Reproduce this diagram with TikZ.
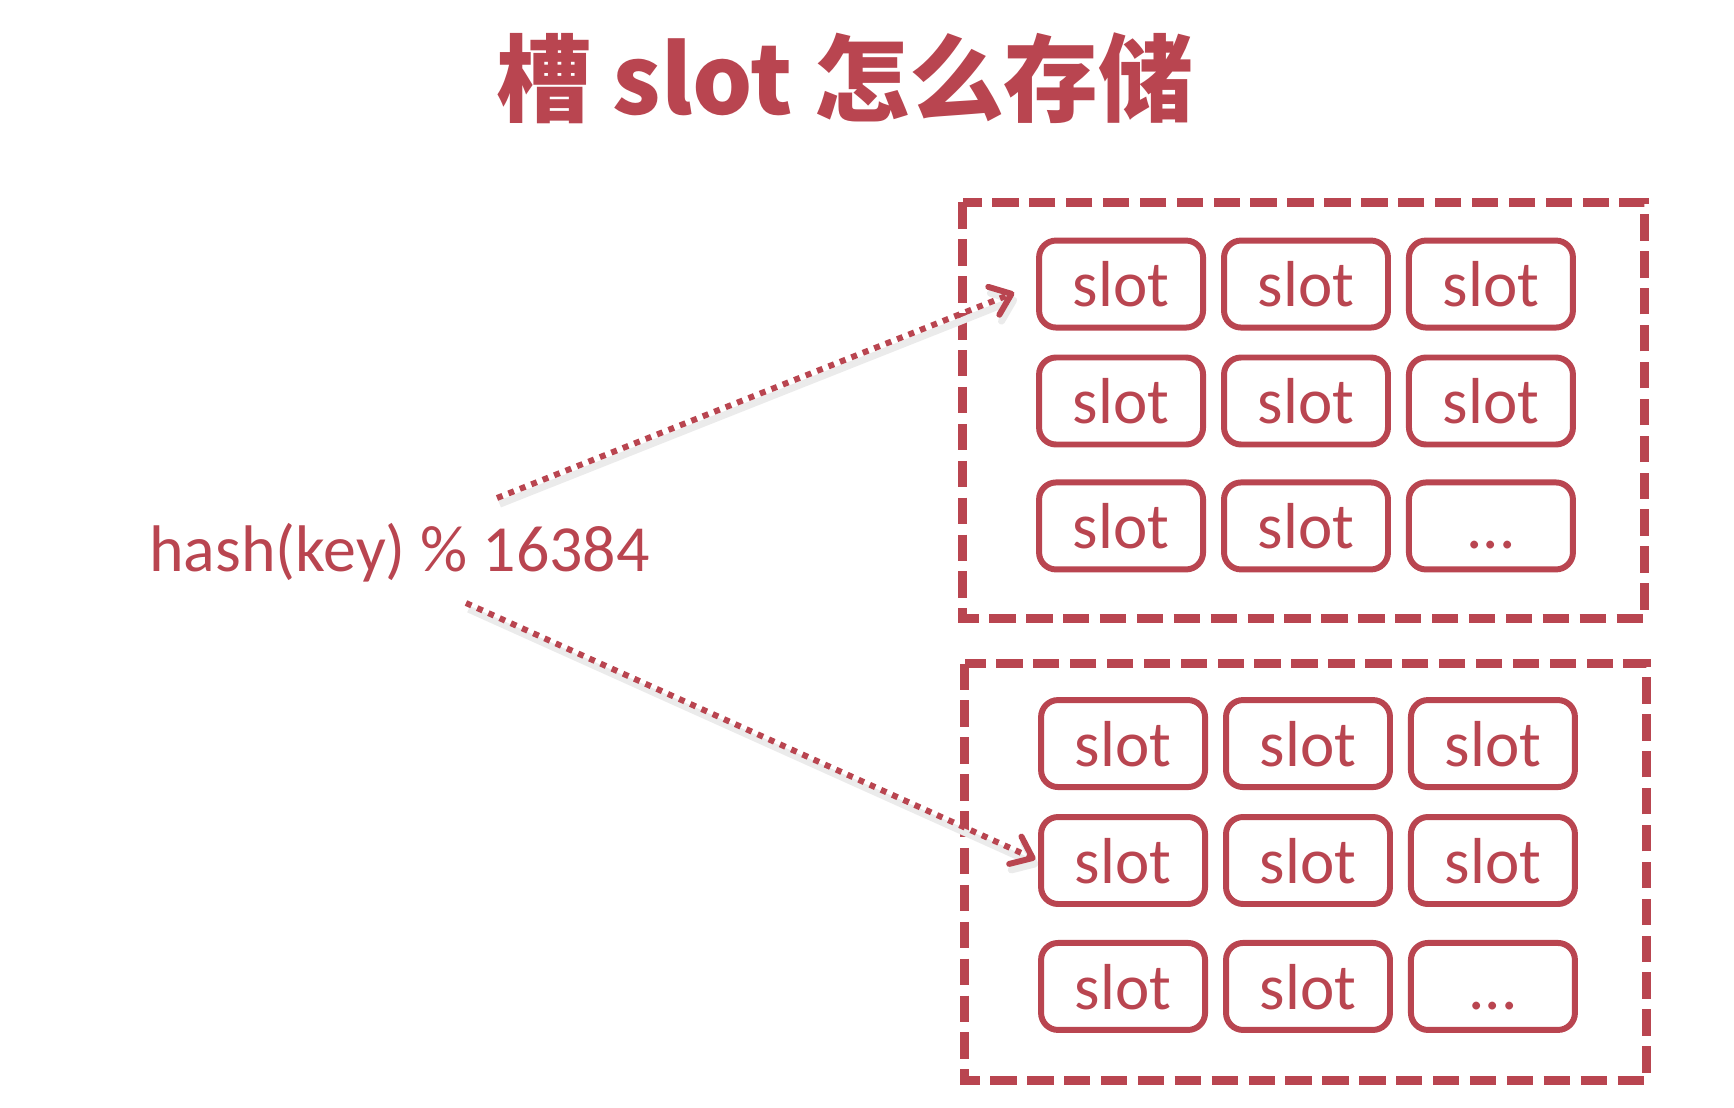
\documentclass[tikz,border=0pt]{standalone}
\usepackage{fontspec}
\setmainfont{Carlito}
\newfontfamily\cjk{Noto Sans CJK SC}
\usetikzlibrary{matrix,arrows.meta,positioning}
\definecolor{slotred}{RGB}{185,69,80}
\tikzset{
  slotbox/.style={rectangle, draw=slotred, line width=3.4pt, rounded corners=0.34cm, text=slotred, font=\fontsize{37}{40}\selectfont, minimum width=3.28cm, minimum height=1.74cm, inner sep=0pt, text height=26pt, text depth=0pt},
  groupbox/.style={draw=slotred, line width=4.8pt, dash pattern=on 15pt off 6pt},
  hashArrow/.style={draw=slotred, line width=3.4pt, dash pattern=on 3.4pt off 3.6pt, -{Straight Barb[length=0.38cm,width=0.6cm,round]},
    preaction={draw=black!8, line width=4pt, transform canvas={shift={(1.5pt,-3.5pt)}}}}
}

\begin{document}
\begin{tikzpicture}[x=0.02cm, y=-0.02cm, >=Latex]
\useasboundingbox (0,0) rectangle (1734,1108);

% Title
\node[text=slotred, font=\cjk\bfseries\fontsize{54}{60}\selectfont] (title) at (845,78) {槽 slot 怎么存储};

% Key
\node[anchor=base west, text=slotred, font=\fontsize{37.5}{40}\selectfont, inner sep=0pt] (hash) at (149,571) {hash(key) \% 16384};
\coordinate (hashUp) at (497,498);
\coordinate (hashDown) at (466,603);

% Top group of slots
\matrix[column sep=0.3cm, row sep=0.48cm] (topgrid) at (1306,405) {
  \node[slotbox] (T11) {slot}; &
  \node[slotbox] (T12) {slot}; &
  \node[slotbox] (T13) {slot}; \\
  \node[slotbox] (T21) {slot}; &
  \node[slotbox] (T22) {slot}; &
  \node[slotbox] (T23) {slot}; \\[0.16cm]
  \node[slotbox] (T31) {slot}; &
  \node[slotbox] (T32) {slot}; &
  \node[slotbox] (T33) {...}; \\
};

% Bottom group of slots
\matrix[column sep=0.3cm, row sep=0.48cm] (botgrid) at (1308,865) {
  \node[slotbox] (B11) {slot}; &
  \node[slotbox] (B12) {slot}; &
  \node[slotbox] (B13) {slot}; \\
  \node[slotbox] (B21) {slot}; &
  \node[slotbox] (B22) {slot}; &
  \node[slotbox] (B23) {slot}; \\[0.18cm]
  \node[slotbox] (B31) {slot}; &
  \node[slotbox] (B32) {slot}; &
  \node[slotbox] (B33) {...}; \\
};

% Dashed frames
\draw[groupbox] (962.5,202.5) rectangle (1644.5,618.5);
\draw[groupbox] (964.5,663.5) rectangle (1646.5,1080.5);

% Arrows
\draw[hashArrow, shorten >=0.47cm] (hashUp) -- (T11.west);
\draw[hashArrow, shorten >=0.06cm] (hashDown) -- (B21.west);

\end{tikzpicture}
\end{document}
